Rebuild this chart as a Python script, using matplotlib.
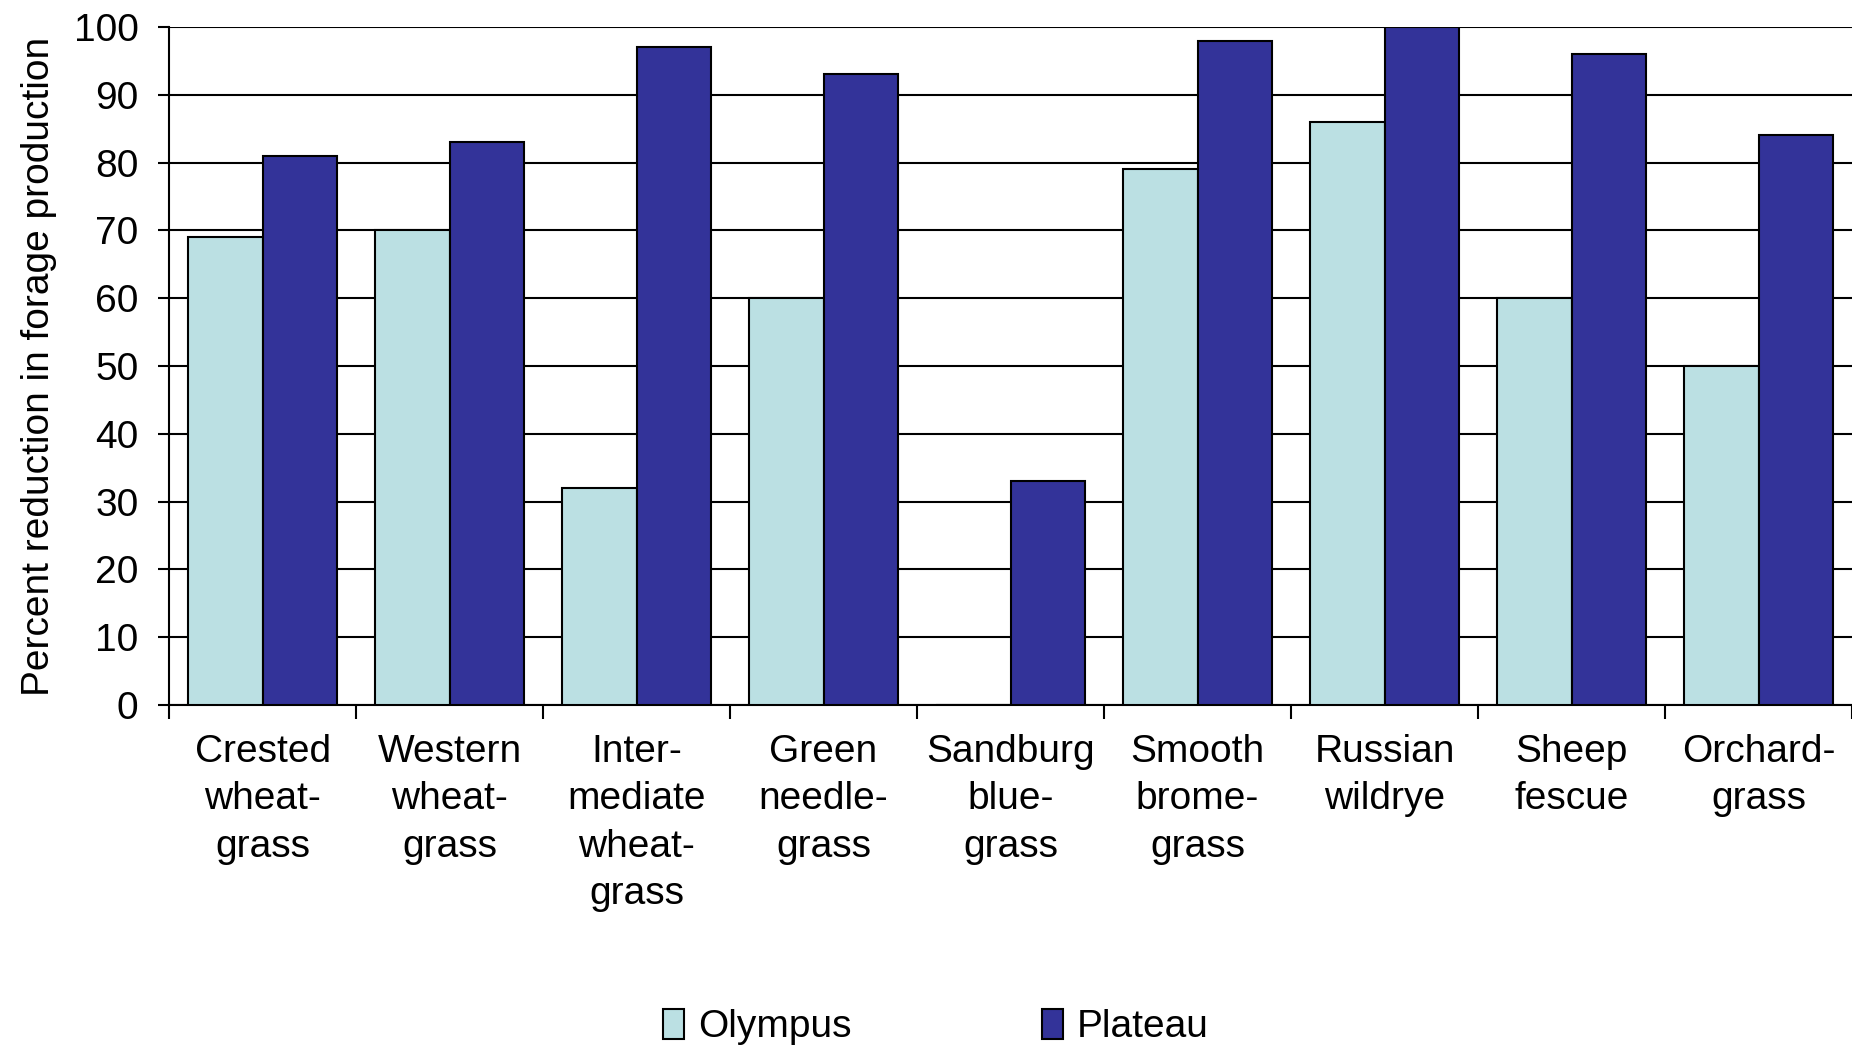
import numpy as np
import matplotlib.pyplot as plt

plt.rcParams['font.family'] = ['Liberation Sans', 'DejaVu Sans']

# data
categories = ["Crested\nwheat-\ngrass", "Western\nwheat-\ngrass", "Inter-\nmediate\nwheat-\ngrass",
              "Green\nneedle-\ngrass", "Sandburg\nblue-\ngrass", "Smooth\nbrome-\ngrass",
              "Russian\nwildrye", "Sheep\nfescue", "Orchard-\ngrass"]
olympus = [69, 70, 32, 60, 0, 79, 86, 60, 50]
plateau = [81, 83, 97, 93, 33, 98, 100, 96, 84]

fs = 28

fig = plt.figure(figsize=(18.52, 10.47), dpi=100)
ax = fig.add_axes([0.0913, 0.3266, 0.9087, 0.6476])

x = np.arange(len(categories))
w = 0.4
ax.bar(x - w / 2, olympus, w, color='#BBE0E3', edgecolor='black', linewidth=1.5,
       label='Olympus', zorder=3)
ax.bar(x + w / 2, plateau, w, color='#333399', edgecolor='black', linewidth=1.5,
       label='Plateau', zorder=3)

ax.set_xlim(-0.5, len(categories) - 0.5)
ax.set_ylim(0, 100)
ax.set_yticks(range(0, 101, 10))
ax.yaxis.grid(True, color='black', linewidth=1.5, zorder=0)
ax.set_axisbelow(True)

ax.set_xticks(x)
ax.set_xticklabels(categories, fontsize=fs, linespacing=1.4, va='top')
ax.set_xticks(np.arange(-0.5, len(categories), 1.0), minor=True)
ax.tick_params(axis='x', which='major', length=0, pad=21)
ax.tick_params(axis='x', which='minor', length=10, width=1.5)
ax.tick_params(axis='y', labelsize=fs, length=8, width=1.5, pad=14)

for s in ['top', 'right']:
    ax.spines[s].set_visible(False)
for s in ['left', 'bottom']:
    ax.spines[s].set_linewidth(1.5)

ax.set_ylabel('Percent reduction in forage production', fontsize=fs, labelpad=12)

fig.legend(loc='center', bbox_to_anchor=(0.5054, 0.019), ncol=2, frameon=False,
           fontsize=fs, handlelength=0.55, handleheight=0.8, handletextpad=0.35,
           columnspacing=4.9)

fig.savefig('out.png', dpi=100)
